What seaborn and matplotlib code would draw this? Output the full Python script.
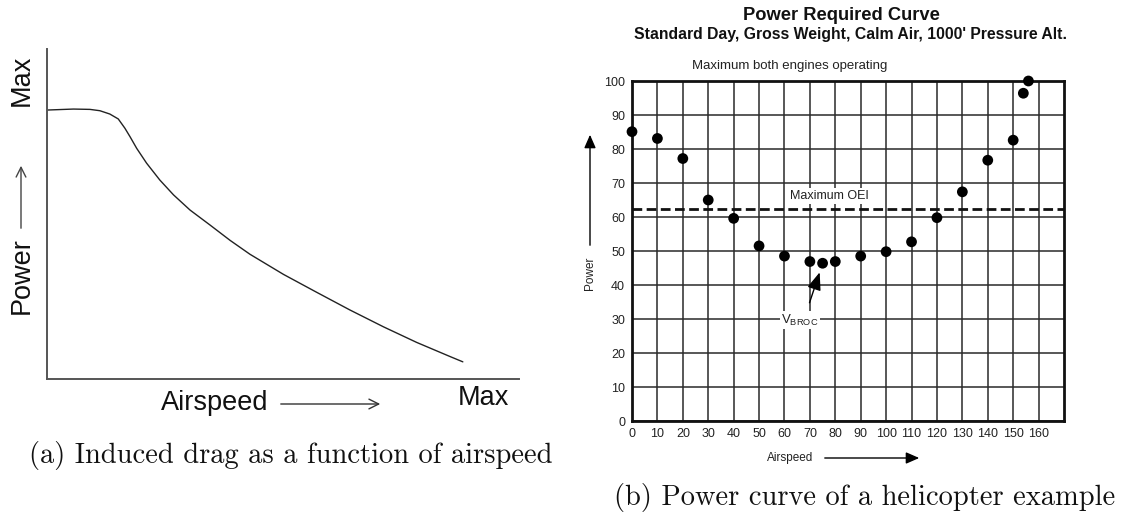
import matplotlib
matplotlib.use("Agg")
import matplotlib.pyplot as plt
import seaborn as sns
import pandas as pd

# (a) induced-drag sketch, normalised axes (0..1)
drag_airspeed = [0.0, 0.056, 0.091, 0.112, 0.133, 0.151, 0.165, 0.176, 0.190, 0.211,
                 0.239, 0.268, 0.303, 0.345, 0.388, 0.430, 0.501, 0.571, 0.642, 0.713,
                 0.783, 0.854, 0.881]
drag_power = [0.815, 0.818, 0.817, 0.813, 0.803, 0.788, 0.760, 0.734, 0.699, 0.654,
              0.603, 0.558, 0.512, 0.467, 0.420, 0.378, 0.317, 0.263, 0.209, 0.158,
              0.111, 0.068, 0.052]

# (b) power required vs airspeed
airspeed = [0, 10, 20, 30, 40, 50, 60, 70, 75, 80, 90, 100, 110, 120, 130, 140, 150, 154, 156]
power = [85.1, 83.1, 77.2, 65.0, 59.6, 51.5, 48.5, 46.9, 46.4, 46.9, 48.5, 49.8,
         52.7, 59.8, 67.4, 76.7, 82.6, 96.4, 100.0]
oei_limit = 62.3
x_ticks = list(range(0, 161, 10))
y_ticks = list(range(0, 101, 10))

sns.set_theme(style="white")
plt.rcParams["font.family"] = ["Liberation Sans", "DejaVu Sans"]

W, H = 1130, 517
fig = plt.figure(figsize=(W / 100, H / 100), dpi=100)


def fx(px):
    return px / W


def fy(py):
    return 1 - py / H


# ---------------- left panel ----------------
axl = fig.add_axes([fx(47), fy(379), fx(519) - fx(47), fy(49) - fy(379)])
df_drag = pd.DataFrame({"airspeed": drag_airspeed, "power": drag_power})
sns.lineplot(data=df_drag, x="airspeed", y="power", ax=axl, color="#222222",
             linewidth=1.0, sort=False)
axl.set_xlim(0, 1)
axl.set_ylim(0, 1)
axl.set_xticks([])
axl.set_yticks([])
axl.set_xlabel("")
axl.set_ylabel("")
for side in ("top", "right"):
    axl.spines[side].set_visible(False)
for side in ("left", "bottom"):
    axl.spines[side].set_color("#555555")
    axl.spines[side].set_linewidth(1.4)

fig.text(fx(22), fy(80), "Max", rotation=90, ha="center", va="center",
         fontsize=19.5, color="#111111")
fig.text(fx(22), fy(276), "Power", rotation=90, ha="center", va="center",
         fontsize=19.5, color="#111111")
fig.add_artist(matplotlib.patches.FancyArrowPatch(
    (fx(21), fy(231)), (fx(21), fy(163)), transform=fig.transFigure,
    arrowstyle="->,head_length=7,head_width=3.5", color="#444444", lw=1.0))
fig.text(fx(215), fy(403), "Airspeed", ha="center", va="center",
         fontsize=19.5, color="#111111")
fig.add_artist(matplotlib.patches.FancyArrowPatch(
    (fx(278), fy(404)), (fx(383), fy(404)), transform=fig.transFigure,
    arrowstyle="->,head_length=7,head_width=3.5", color="#333333", lw=1.0))
fig.text(fx(483), fy(398), "Max", ha="center", va="center",
         fontsize=19.5, color="#111111")
fig.text(fx(291), fy(455), "(a) Induced drag as a function of airspeed",
         ha="center", va="center", fontsize=20.5, family="cmr10", color="#111111")

# ---------------- right panel ----------------
axr = fig.add_axes([fx(632), fy(421), fx(1064) - fx(632), fy(81) - fy(421)])
df_power = pd.DataFrame({"airspeed": airspeed, "power": power})
axr.set_xlim(0, 170)
axr.set_ylim(0, 100)
axr.set_xticks(x_ticks)
axr.set_yticks(y_ticks)
axr.set_xticklabels([str(t) for t in x_ticks])
axr.set_yticklabels([str(t) for t in y_ticks])
axr.tick_params(length=0, labelsize=9, pad=5, colors="#222222")
axr.grid(True, color="#2a2a2a", linewidth=1.1)
axr.set_axisbelow(True)
for side in axr.spines:
    axr.spines[side].set_visible(True)
    axr.spines[side].set_color("#111111")
    axr.spines[side].set_linewidth(2.0)

axr.axhline(oei_limit, color="#111111", linewidth=2.0, linestyle=(0, (3.5, 1.6)), zorder=3)
sns.scatterplot(data=df_power, x="airspeed", y="power", ax=axr, color="black",
                s=60, edgecolor="none", zorder=4, clip_on=False)
axr.set_xlabel("")
axr.set_ylabel("")

axr.text(77.5, 66.2, "Maximum OEI", ha="center", va="center", fontsize=9,
         color="#222222", zorder=5,
         bbox=dict(facecolor="white", edgecolor="none", pad=1.5))
axr.text(62, 104.5, "Maximum both engines operating", ha="center", va="center",
         fontsize=9.5, color="#222222", clip_on=False)
axr.annotate("", xy=(74.2, 44.5), xytext=(69.5, 34),
             arrowprops=dict(arrowstyle="-|>,head_length=0.9,head_width=0.35",
                             color="black", lw=1.0), zorder=5)
axr.text(66, 29.6, r"V$_{\mathregular{BROC}}$", ha="center", va="center",
         fontsize=9.5, color="#222222", zorder=5,
         bbox=dict(facecolor="white", edgecolor="none", pad=1.0))

fig.text(fx(841), fy(15), "Power Required Curve", ha="center", va="center",
         fontsize=13.2, fontweight="bold", color="#111111")
fig.text(fx(851), fy(35), "Standard Day, Gross Weight, Calm Air, 1000' Pressure Alt.",
         ha="center", va="center", fontsize=11.3, fontweight="bold", color="#111111")

fig.text(fx(590), fy(273), "Power", rotation=90, ha="center", va="center",
         fontsize=8.5, color="#222222")
fig.add_artist(matplotlib.patches.FancyArrowPatch(
    (fx(590), fy(248)), (fx(590), fy(132)), transform=fig.transFigure,
    arrowstyle="-|>,head_length=8,head_width=3.5", color="black", lw=1.0))
fig.text(fx(790), fy(458), "Airspeed", ha="center", va="center",
         fontsize=8.5, color="#222222")
fig.add_artist(matplotlib.patches.FancyArrowPatch(
    (fx(822), fy(458)), (fx(922), fy(458)), transform=fig.transFigure,
    arrowstyle="-|>,head_length=8,head_width=3.5", color="black", lw=1.0))
fig.text(fx(865), fy(498), "(b) Power curve of a helicopter example",
         ha="center", va="center", fontsize=20.5, family="cmr10", color="#111111")

fig.savefig("out.png", dpi=100, facecolor="white")
